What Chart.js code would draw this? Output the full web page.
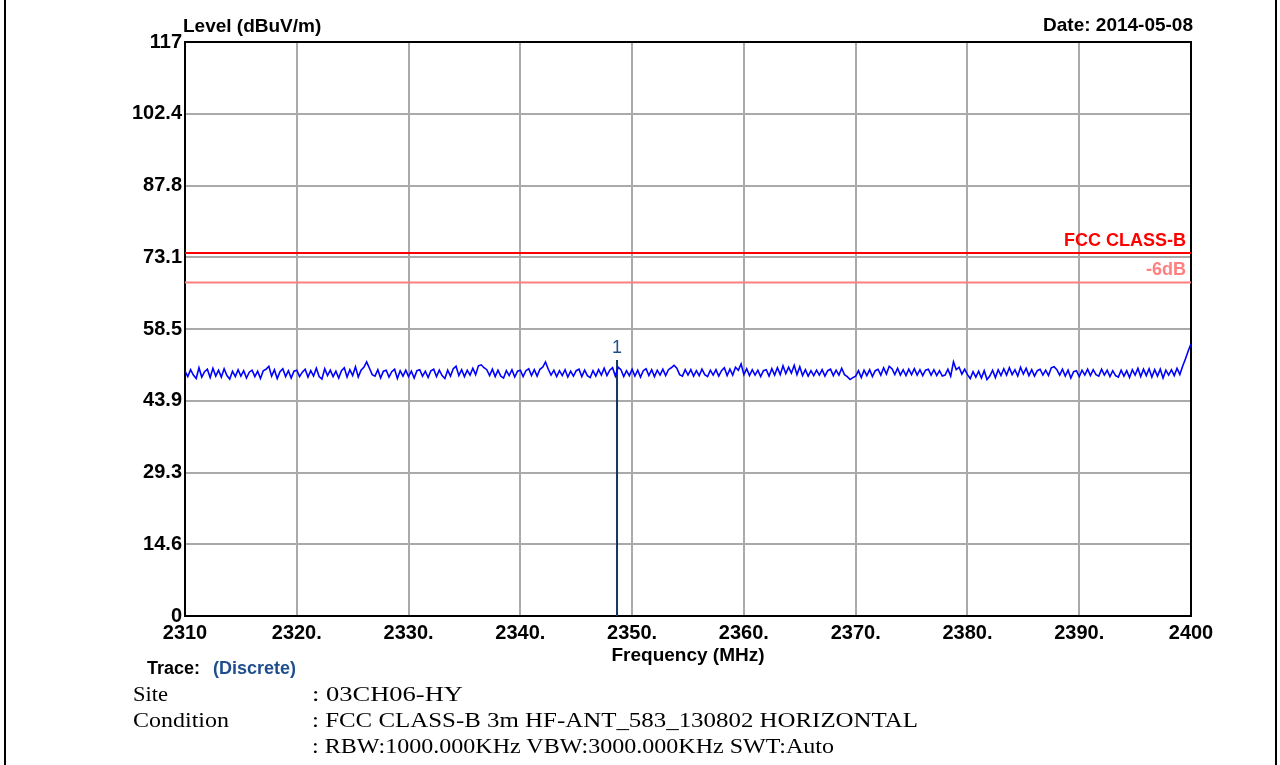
<!DOCTYPE html>
<html>
<head>
<meta charset="utf-8">
<script src="https://cdn.jsdelivr.net/npm/chart.js@4"></script>
<style>
body{margin:0;background:#fff;}
#wrap{position:relative;width:1280px;height:765px;overflow:hidden;}
#wrap:before{content:'';position:absolute;left:4px;top:0;width:2px;height:765px;background:#000;}
#wrap:after{content:'';position:absolute;left:1275px;top:0;width:2px;height:765px;background:#000;}
.t{position:absolute;white-space:nowrap;line-height:1;}
.b{font:bold 18px "Liberation Sans",Arial,sans-serif;color:#000;}
.s{font:20px "Liberation Serif","Times New Roman",serif;color:#000;transform-origin:0 50%;}
</style>
</head>
<body>
<div id="wrap">
<canvas id="myChart" width="1280" height="765"></canvas>
<div class="t b" style="left:147px;top:658px;">Trace:</div>
<div class="t b" style="left:213px;top:658px;color:#1f4e8c;">(Discrete)</div>
<div class="t s fit" data-w="35" style="left:133px;top:683px;">Site</div>
<div class="t s fit" data-w="96" style="left:133px;top:709px;">Condition</div>
<div class="t s fit" data-w="151" style="left:312px;top:683px;">: 03CH06-HY</div>
<div class="t s fit" data-w="606" style="left:312px;top:709px;">: FCC CLASS-B 3m HF-ANT_583_130802 HORIZONTAL</div>
<div class="t s fit" data-w="522" style="left:312px;top:735px;">: RBW:1000.000KHz VBW:3000.000KHz SWT:Auto</div>
</div>
<script>
// sweep: 2310 - 2400 MHz, 0.25 MHz steps
const startFreq = 2310;
const stepFreq = 0.25;

// level in dBuV/m, 4 points per MHz
const level = [
49.9,48.8,50.2,49.1, 48.4,50.6,48.7,49.8, 50.3,48.6,50.5,48.9, 50.1,48.7,50.4,49.0,
48.3,49.9,48.8,50.2, 48.9,50.0,48.5,49.7, 50.1,48.8,49.9,48.4, 50.0,50.3,50.9,48.9,
50.2,48.4,49.8,50.4, 48.8,50.0,48.5,49.9, 50.1,48.8,49.7,50.3, 48.7,50.0,48.9,50.5,
48.8,48.3,50.4,49.0, 50.1,48.8,49.9,48.5, 50.0,50.6,48.7,50.2, 49.0,50.8,48.7,50.1,
50.7,51.8,50.5,49.2, 48.9,50.2,48.5,49.9, 50.1,48.7,49.8,50.3, 48.4,50.0,48.9,50.1,
48.8,49.9,48.5,50.0, 50.2,48.9,49.9,48.6, 50.0,50.3,48.8,50.1, 49.0,48.4,50.1,48.9,
50.4,50.9,49.0,50.2, 48.8,50.1,49.1,50.5, 49.2,51.0,51.2,50.6, 50.2,49.0,50.3,48.8,
50.1,48.9,48.5,50.0, 49.0,50.2,48.7,49.9, 50.1,48.8,50.0,50.4, 49.0,50.2,48.9,50.3,
50.7,51.8,50.3,49.1, 50.1,48.8,50.0,49.0, 50.2,48.7,49.9,48.9, 50.0,50.3,48.8,50.1,
49.0,48.6,50.0,48.9, 50.2,49.1,50.5,49.0, 50.1,50.6,48.9,50.7, 50.2,48.8,50.0,49.0,
50.3,48.9,50.1,48.7, 50.0,50.4,49.0,50.2, 48.8,50.1,49.1,50.3, 49.0,50.2,50.6,51.1,
50.5,49.2,48.9,50.2, 49.1,50.2,48.9,50.0, 49.0,50.3,49.2,48.8, 50.1,49.1,50.2,48.9,
50.0,50.6,49.0,50.3, 49.1,50.7,50.1,51.4, 49.2,50.4,49.0,50.2, 49.1,50.1,48.8,50.0,
50.2,48.9,50.4,49.1, 50.6,49.2,51.0,49.4, 50.7,49.5,51.1,49.2, 50.8,49.0,50.2,48.9,
50.0,49.0,50.1,49.1, 50.2,48.9,50.0,50.3, 49.0,50.1,49.1,50.5, 49.2,48.8,48.2,48.6,
48.9,50.0,48.6,50.1, 49.0,50.2,48.8,50.0, 50.3,49.1,50.6,49.3, 50.9,50.4,49.2,50.5,
49.1,50.2,49.0,50.3, 49.2,50.4,49.1,50.2, 49.0,50.1,50.3,49.1, 50.2,49.0,50.0,48.9,
49.1,50.3,48.9,51.8, 50.2,50.7,49.3,50.3, 49.2,48.4,49.8,48.7, 49.9,48.5,50.0,48.2,
48.9,50.1,48.6,50.2, 49.0,50.4,49.1,50.6, 49.2,50.2,48.9,50.7, 49.3,50.5,49.0,50.2,
48.9,50.0,50.3,49.1, 50.1,49.0,50.6,50.8, 50.2,49.1,50.3,48.9, 50.1,48.5,49.8,50.0,
48.8,50.1,49.1,50.3, 49.0,50.2,49.2,48.9, 50.3,49.1,50.1,48.8, 50.0,49.0,48.7,50.1,
48.9,50.0,48.6,50.2, 49.1,50.5,48.8,50.3, 49.0,50.4,48.7,50.2, 48.9,50.3,48.5,50.1,
49.1,50.2,49.0,50.5, 49.2,50.9,52.4,54.0,
55.5
];

const limitFreq = [2310, 2400];
const limitLevel = [74, 74];
const marginLevel = [68, 68];

const markerFreq = 2348.65;
const markerLevel = 52.2;
const markerName = '1';

const xTicks = [2310, 2320, 2330, 2340, 2350, 2360, 2370, 2380, 2390, 2400];
const xTickLabels = ['2310', '2320.', '2330.', '2340.', '2350.', '2360.', '2370.', '2380.', '2390.', '2400'];
const yTicks = [0, 14.625, 29.25, 43.875, 58.5, 73.125, 87.75, 102.375, 117];
const yTickLabels = ['0', '14.6', '29.3', '43.9', '58.5', '73.1', '87.8', '102.4', '117'];

const tracePts = level.map(function(v, i){ return {x: startFreq + i*stepFreq, y: v}; });

const sans = '"Liberation Sans", Arial, sans-serif';

const extras = {
  id: 'extras',
  beforeDatasetsDraw(chart){
    const c = chart.ctx, a = chart.chartArea;
    c.save();
    c.strokeStyle = '#000';
    c.lineWidth = 2;
    c.strokeRect(a.left, a.top, a.right - a.left, a.bottom - a.top);
    c.restore();
  },
  afterDraw(chart){
    const c = chart.ctx, a = chart.chartArea;
    const xs = chart.scales.x, ys = chart.scales.y;
    c.save();
    c.textBaseline = 'middle';
    c.fillStyle = '#000';
    c.font = 'bold 19px ' + sans;
    c.textAlign = 'left';
    c.fillText('Level (dBuV/m)', a.left - 2, 27);
    c.textAlign = 'right';
    c.fillText('Date: 2014-05-08', a.right + 2, 26);
    c.textAlign = 'center';
    c.fillText('Frequency (MHz)', (a.left + a.right) / 2, 656);

    c.textAlign = 'right';
    c.font = 'bold 18px ' + sans;
    c.fillStyle = '#ff0000';
    c.fillText('FCC CLASS-B', a.right - 5, ys.getPixelForValue(limitLevel[1]) - 12);
    c.fillStyle = '#ff8080';
    c.fillText('-6dB', a.right - 5, ys.getPixelForValue(marginLevel[1]) - 12);

    c.textAlign = 'center';
    c.font = '18px ' + sans;
    c.fillStyle = '#1f4e8c';
    c.fillText(markerName, xs.getPixelForValue(markerFreq), ys.getPixelForValue(markerLevel) - 12);
    c.restore();
  }
};

var ctx = document.getElementById('myChart').getContext('2d');
var chart = new Chart(ctx, {
    type: 'line',
    data: {
        datasets: [{
            label: 'FCC CLASS-B',
            data: limitFreq.map(function(f, i){ return {x: f, y: limitLevel[i]}; }),
            borderColor: '#ff0000',
            borderWidth: 2,
            pointRadius: 0
        }, {
            label: '-6dB',
            data: limitFreq.map(function(f, i){ return {x: f, y: marginLevel[i]}; }),
            borderColor: '#ff8080',
            borderWidth: 2,
            pointRadius: 0
        }, {
            label: 'Trace',
            data: tracePts,
            borderColor: '#0000ff',
            borderWidth: 1.6,
            pointRadius: 0,
            tension: 0
        }, {
            label: 'Marker',
            data: [{x: markerFreq, y: 0}, {x: markerFreq, y: markerLevel}],
            borderColor: '#17365d',
            borderWidth: 2,
            pointRadius: 0
        }]
    },
    options: {
        responsive: false,
        animation: false,
        events: [],
        layout: {padding: {top: 42, right: 89, left: 0, bottom: 0}},
        plugins: {legend: {display: false}, tooltip: {enabled: false}},
        scales: {
            x: {
                type: 'linear',
                min: 2310,
                max: 2400,
                afterBuildTicks: function(s){ s.ticks = xTicks.map(function(v){ return {value: v}; }); },
                afterFit: function(s){ s.height = 149; },
                ticks: {
                    callback: function(v, i){ return xTickLabels[i]; },
                    font: {family: sans, size: 20, weight: 'bold'},
                    color: '#000',
                    padding: 5,
                    maxRotation: 0,
                    autoSkip: false
                },
                grid: {color: '#aaaaaa', lineWidth: 2, drawTicks: false},
                border: {display: false}
            },
            y: {
                min: 0,
                max: 117,
                afterBuildTicks: function(s){ s.ticks = yTicks.map(function(v){ return {value: v}; }); },
                afterFit: function(s){ s.width = 185; },
                ticks: {
                    callback: function(v, i){ return yTickLabels[i]; },
                    font: {family: sans, size: 20, weight: 'bold'},
                    color: '#000',
                    padding: 3,
                    autoSkip: false
                },
                grid: {color: '#aaaaaa', lineWidth: 2, drawTicks: false},
                border: {display: false}
            }
        }
    },
    plugins: [extras]
});

// stretch the serif lines to the widths seen in the picture
document.querySelectorAll('.fit').forEach(function(el){
    const target = +el.dataset.w;
    const w = el.getBoundingClientRect().width;
    el.style.transform = 'scaleX(' + (target / w) + ')';
});
</script>
</body>
</html>
